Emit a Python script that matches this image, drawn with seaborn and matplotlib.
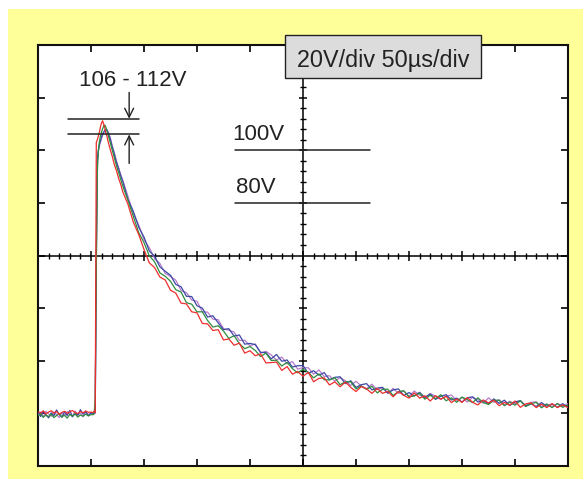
import numpy as np
import pandas as pd
import matplotlib
matplotlib.use("Agg")
import matplotlib.pyplot as plt
from matplotlib.patches import Rectangle
import seaborn as sns

sns.set_style("white")
plt.rcParams["font.family"] = ["Liberation Sans", "DejaVu Sans"]

# Sample times in microseconds (denser around the pulse edge)
time_us = np.concatenate([
    np.arange(0, 50.1, 2.5),
    np.arange(52, 66.1, 1),
    np.arange(68, 80.1, 2),
    np.arange(85, 500.1, 5),
])

# Recorded voltages (V) of the four captured pulses
volts_red = [
    0.6, 0.2, 0.9, -0.2, 0.5, 1.0, 0.1, 0.7, -0.4, 0.4, 0.8, 0.0, 0.6, 1.1, 0.3, -0.1, 0.7, 0.2, 0.9, 0.4, 0.5,
    0.3, 0.8, 0.4, 103.0, 104.0, 105.5, 107.0, 109.0, 110.5, 111.2, 109.8, 108.5, 106.5, 105.5, 103.5,
    100.5, 97.8, 94.6, 92.3, 89.4, 87.1, 84.2,
    79.3, 72.6, 68.0, 62.3, 57.2, 55.4, 51.8, 50.7, 46.8, 45.7,
    41.9, 41.6, 38.6, 38.2, 34.2, 34.0, 31.5, 31.8, 27.9, 28.3,
    25.9, 26.7, 22.9, 23.8, 21.9, 22.6, 19.2, 19.3, 19.5, 16.3,
    17.8, 14.9, 15.9, 14.1, 15.6, 12.0, 13.3, 13.5, 10.8, 12.0,
    10.1, 11.9, 9.9, 8.3, 10.2, 9.3, 7.6, 9.5, 7.6, 8.4,
    6.3, 8.3, 6.9, 5.8, 7.8, 5.8, 6.7, 4.7, 6.7, 5.4,
    6.5, 4.1, 5.5, 4.2, 6.0, 4.2, 3.2, 5.1, 4.0, 5.0,
    2.9, 4.2, 3.1, 4.7, 2.3, 3.6, 4.0, 2.2, 3.5, 2.2,
    3.7, 2.2, 3.2, 2.2,
]
volts_green = [
    -0.9, -0.2, -1.5, -0.6, -1.2, -0.3, -1.6, -0.8, -0.1, -1.3, -0.7, -1.8, -0.4, -1.0, -0.2, -1.4, -0.6, -1.1, -0.3, -0.9, -0.5,
    -0.5, 0.2, 5.0, 55.0, 92.0, 100.0, 103.5, 105.5, 107.0, 108.2, 109.2, 109.6, 108.8, 107.4, 106.1,
    103.2, 100.1, 97.2, 94.1, 91.6, 89.0, 86.4,
    80.8, 74.8, 68.7, 64.9, 59.9, 57.6, 53.4, 52.1, 50.2, 47.0,
    46.1, 42.1, 41.5, 38.6, 38.6, 35.3, 32.8, 33.3, 31.3, 28.5,
    29.5, 26.5, 24.6, 25.4, 23.9, 21.6, 22.9, 20.1, 20.2, 18.0,
    19.4, 17.0, 15.4, 16.8, 15.6, 13.5, 15.0, 12.8, 12.7, 13.6,
    10.9, 12.0, 12.0, 9.3, 10.4, 9.1, 10.3, 7.8, 9.1, 9.2,
    6.8, 8.2, 8.6, 6.3, 6.6, 7.7, 5.4, 6.9, 5.6, 7.1,
    4.8, 5.9, 4.2, 6.2, 5.2, 4.1, 5.9, 4.1, 3.4, 5.0,
    5.0, 2.9, 4.3, 3.1, 4.8, 2.6, 3.6, 4.2, 2.1, 3.5,
    2.2, 3.7, 2.3, 3.2,
]
volts_blue = [
    0.4, -1.2, 0.9, -0.6, -1.7, 0.2, -0.9, 1.3, -0.4, -1.5, 0.6, -0.8, 1.1, -1.3, 0.0, -0.7, 1.4, -0.3, 0.8, -1.0, 0.3,
    -0.2, 0.1, 0.3, 60.0, 97.0, 100.2, 102.3, 103.6, 105.1, 106.2, 106.9, 107.6, 108.0, 107.7, 106.8,
    104.6, 101.3, 98.7, 95.4, 93.1, 90.3, 88.2,
    81.1, 76.7, 70.8, 67.0, 61.7, 59.7, 55.7, 54.0, 52.5, 49.0,
    48.1, 44.5, 44.4, 40.9, 40.0, 36.6, 37.1, 34.4, 31.8, 32.2,
    29.4, 29.8, 26.3, 26.6, 26.1, 23.2, 23.1, 20.7, 22.4, 19.8,
    20.3, 17.6, 18.1, 18.2, 15.2, 16.2, 14.5, 15.5, 12.8, 13.7,
    13.9, 11.3, 12.4, 9.9, 10.9, 11.3, 8.9, 9.6, 9.9, 7.7,
    8.9, 9.3, 6.8, 7.9, 6.7, 8.0, 6.0, 7.4, 5.3, 6.5,
    7.1, 5.1, 5.8, 4.3, 5.9, 6.3, 4.3, 4.8, 3.7, 5.5,
    3.8, 5.0, 3.0, 4.4, 4.8, 2.8, 3.7, 2.6, 4.1, 2.7,
    3.6, 2.3, 3.7, 2.2,
]
volts_purple = [
    -0.6, 0.5, -1.4, 0.8, -0.2, -1.1, 0.6, -0.5, -1.6, 0.3, -0.9, 0.7, -0.3, -1.2, 0.9, -0.6, 0.1, -1.3, 0.4, -0.4, 0.0,
    0.2, -0.3, 0.1, 58.0, 96.0, 99.6, 101.8, 103.2, 104.6, 105.8, 106.7, 107.3, 107.6, 107.8, 107.1,
    105.0, 101.8, 98.9, 95.9, 93.4, 90.8, 88.5,
    82.3, 75.9, 71.6, 66.0, 63.0, 58.8, 57.0, 53.2, 52.0, 50.6,
    46.7, 45.9, 43.1, 42.6, 38.6, 38.5, 35.8, 35.6, 32.2, 31.6,
    30.9, 27.7, 27.8, 25.7, 26.4, 22.9, 23.6, 22.2, 20.3, 21.4,
    18.8, 19.7, 16.8, 17.4, 17.3, 14.9, 16.5, 14.0, 14.3, 12.3,
    13.6, 12.4, 10.6, 12.2, 10.4, 9.4, 11.1, 9.0, 9.7, 7.6,
    9.5, 7.6, 8.6, 6.5, 8.5, 6.9, 6.0, 7.5, 6.6, 5.3,
    6.5, 7.0, 4.9, 6.1, 4.3, 6.1, 5.2, 3.9, 5.9, 4.2,
    5.2, 3.3, 4.6, 3.7, 4.9, 2.9, 4.2, 4.4, 2.6, 3.6,
    2.6, 3.8, 2.7, 3.7,
]

trace_names = ["purple", "blue", "green", "red"]
trace_colors = {"purple": "#b77ccc", "blue": "#3c49a6", "green": "#2e8c3e", "red": "#ee2e2e"}
traces = {"purple": volts_purple, "blue": volts_blue, "green": volts_green, "red": volts_red}

df = pd.concat(
    [pd.DataFrame({"t": time_us, "V": traces[n], "trace": n}) for n in trace_names],
    ignore_index=True,
)

# Annotation values
peak_low, peak_high = 106, 112
level_labels = [100, 80]
scale_text = "20V/div 50\u00b5s/div"
peak_text = "106 - 112V"

fig = plt.figure(figsize=(5.83, 4.79), dpi=100, facecolor="white")
fig.patches.append(Rectangle((8 / 583, 0), 1, (479 - 9) / 479, transform=fig.transFigure,
                             facecolor="#ffff99", edgecolor="none", zorder=-5))
ax = fig.add_axes([38 / 583, (479 - 466) / 479, 530 / 583, 421 / 479])
ax.set_facecolor("white")

ax.set_xlim(0, 500)
ax.set_ylim(-20, 140)
ax.set_xticks(np.arange(0, 501, 50))
ax.set_yticks(np.arange(-20, 141, 20))
ax.tick_params(direction="in", top=True, right=True, bottom=True, left=True,
               length=5, width=1.2, color="black",
               labelbottom=False, labelleft=False)
for s in ax.spines.values():
    s.set_visible(True)
    s.set_color("#111111")
    s.set_linewidth(1.5)

# Graticule crosshair with division marks
ax.axhline(60, color="black", lw=1.1, zorder=2)
ax.axvline(250, color="black", lw=1.1, zorder=2)
minor_t = [t for t in np.arange(0, 501, 10) if t % 50 != 0]
major_t = list(np.arange(50, 451, 50))
minor_v = [v for v in np.arange(-20, 141, 4) if v % 20 != 0]
major_v = [v for v in np.arange(0, 121, 20) if v != 60]
ax.plot(minor_t, [60] * len(minor_t), ls="none", marker="|", ms=4.3, mew=1.0, color="black", zorder=2)
ax.plot(major_t, [60] * len(major_t), ls="none", marker="|", ms=7.2, mew=1.1, color="black", zorder=2)
ax.plot([250] * len(minor_v), minor_v, ls="none", marker="_", ms=4.3, mew=1.0, color="black", zorder=2)
ax.plot([250] * len(major_v), major_v, ls="none", marker="_", ms=6.0, mew=1.1, color="black", zorder=2)

sns.lineplot(data=df, x="t", y="V", hue="trace", hue_order=trace_names, palette=trace_colors,
             estimator=None, sort=False, lw=0.9, legend=False, ax=ax, zorder=3)
ax.set_xlabel("")
ax.set_ylabel("")

# Peak range markers
for lvl in (peak_low, peak_high):
    ax.plot([28, 95], [lvl, lvl], color="#222222", lw=1.1, zorder=4)
ax.annotate("", xy=(86, peak_high), xytext=(86, 122),
            arrowprops=dict(arrowstyle="->", lw=1.0, color="#222222", shrinkA=0, shrinkB=0, mutation_scale=16))
ax.annotate("", xy=(86, peak_low), xytext=(86, 95),
            arrowprops=dict(arrowstyle="->", lw=1.0, color="#222222", shrinkA=0, shrinkB=0, mutation_scale=16))
ax.text(89, 124.6, peak_text, ha="center", va="baseline", fontsize=16, color="#222222", zorder=5)

# Reference levels
for lvl, tx, ty in zip(level_labels, [183, 187], [103.9, 83.8]):
    ax.plot([186, 313], [lvl, lvl], color="#222222", lw=1.1, zorder=4)
    ax.text(tx, ty, f"{lvl}V", ha="left", va="baseline", fontsize=16, color="#222222", zorder=5)

# Scale box
ax.add_patch(Rectangle((233, 127.5), 185, 16.3, facecolor="#dcdcdc", edgecolor="#222222",
                       lw=1.0, clip_on=False, zorder=6))
ax.text(325.5, 131.7, scale_text, ha="center", va="baseline", fontsize=16.8, color="#222222", zorder=7)

fig.savefig("out.png", dpi=100)
